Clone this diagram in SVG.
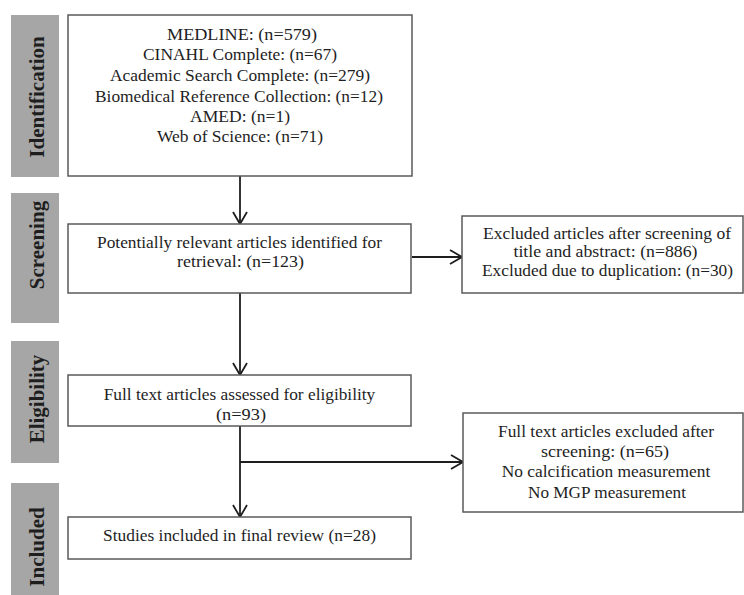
<svg xmlns="http://www.w3.org/2000/svg" width="744" height="595" viewBox="0 0 744 595">
<style>
.bar{fill:#a6a6a6;}
.lbl{font-family:"Liberation Serif","Times New Roman",serif;font-weight:bold;font-size:21px;fill:#1e1e1e;text-anchor:middle;}
.box{fill:#ffffff;stroke:#5a5a5a;stroke-width:1.5;}
.t{font-family:"Liberation Serif","Times New Roman",serif;font-size:17.5px;fill:#1e1e1e;text-anchor:middle;}
.s{font-size:16px;}
.ln{stroke:#1e1e1e;stroke-width:1.8;fill:none;}
</style>
<defs>
<marker id="arr" viewBox="0 0 14 16" refX="13" refY="8" markerWidth="14" markerHeight="16" markerUnits="userSpaceOnUse" orient="auto">
<path d="M1,1 L13,8 L1,15" fill="none" stroke="#1e1e1e" stroke-width="1.8"/>
</marker>
</defs>
<rect width="744" height="595" fill="#ffffff"/>

<g id="phase-identification">
<rect class="bar" x="11" y="15" width="48" height="162"/>
<text class="lbl" transform="translate(44,97) rotate(-90)">Identification</text>
</g>
<g id="phase-screening">
<rect class="bar" x="11" y="193" width="48" height="130"/>
<text class="lbl" transform="translate(44,245) rotate(-90)">Screening</text>
</g>
<g id="phase-eligibility">
<rect class="bar" x="11" y="341" width="48" height="122"/>
<text class="lbl" transform="translate(44,399) rotate(-90)">Eligibility</text>
</g>
<g id="phase-included">
<rect class="bar" x="11" y="483" width="48" height="112"/>
<text class="lbl" transform="translate(44,547) rotate(-90)">Included</text>
</g>

<g id="connectors">
<line class="ln" x1="240" y1="176" x2="240" y2="224" marker-end="url(#arr)"/>
<line class="ln" x1="412" y1="257" x2="462" y2="257" marker-end="url(#arr)"/>
<line class="ln" x1="240" y1="293" x2="240" y2="375" marker-end="url(#arr)"/>
<line class="ln" x1="240" y1="426" x2="240" y2="517" marker-end="url(#arr)"/>
<line class="ln" x1="240" y1="462" x2="463" y2="462" marker-end="url(#arr)"/>
</g>

<g id="node-identification">
<rect class="box" x="68" y="15" width="344" height="161"/>
<text class="t" x="242" y="39.5" textLength="150" lengthAdjust="spacingAndGlyphs">MEDLINE: (n=579)</text>
<text class="t" x="240" y="60" textLength="194" lengthAdjust="spacingAndGlyphs">CINAHL Complete: (n=67)</text>
<text class="t" x="240" y="80.7" textLength="260" lengthAdjust="spacingAndGlyphs">Academic Search Complete: (n=279)</text>
<text class="t" x="239" y="101.5" textLength="288" lengthAdjust="spacingAndGlyphs">Biomedical Reference Collection: (n=12)</text>
<text class="t" x="240" y="121.7" textLength="100" lengthAdjust="spacingAndGlyphs">AMED: (n=1)</text>
<text class="t" x="240" y="141.7" textLength="166" lengthAdjust="spacingAndGlyphs">Web of Science: (n=71)</text>
</g>

<g id="node-screening">
<rect class="box" x="68" y="224" width="343" height="69"/>
<text class="t" x="239.5" y="248" textLength="285" lengthAdjust="spacingAndGlyphs">Potentially relevant articles identified for</text>
<text class="t" x="240.5" y="267" textLength="127" lengthAdjust="spacingAndGlyphs">retrieval: (n=123)</text>
</g>

<g id="node-excluded-screening">
<rect class="box" x="462" y="216" width="281" height="77"/>
<text class="t s" x="607" y="238.5" textLength="248" lengthAdjust="spacingAndGlyphs">Excluded articles after screening of</text>
<text class="t s" x="605.5" y="257" textLength="184" lengthAdjust="spacingAndGlyphs">title and abstract:  (n=886)</text>
<text class="t s" x="607.5" y="275.5" textLength="251" lengthAdjust="spacingAndGlyphs">Excluded due to duplication: (n=30)</text>
</g>

<g id="node-eligibility">
<rect class="box" x="68" y="375" width="343" height="51"/>
<text class="t" x="239.5" y="400" textLength="271.5" lengthAdjust="spacingAndGlyphs">Full text articles assessed  for eligibility</text>
<text class="t" x="241" y="419.5" textLength="50" lengthAdjust="spacingAndGlyphs">(n=93)</text>
</g>

<g id="node-excluded-fulltext">
<rect class="box" x="463" y="413" width="280" height="99"/>
<text class="t" x="606" y="437" textLength="216" lengthAdjust="spacingAndGlyphs">Full text articles excluded after</text>
<text class="t" x="605" y="457" textLength="128" lengthAdjust="spacingAndGlyphs">screening: (n=65)</text>
<text class="t" x="606" y="477" textLength="208.5" lengthAdjust="spacingAndGlyphs">No calcification measurement</text>
<text class="t" x="607" y="497.5" textLength="158" lengthAdjust="spacingAndGlyphs">No MGP measurement</text>
</g>

<g id="node-included">
<rect class="box" x="68" y="517" width="343" height="42"/>
<text class="t" x="239.5" y="541" textLength="273" lengthAdjust="spacingAndGlyphs">Studies included in final review (n=28)</text>
</g>
</svg>
